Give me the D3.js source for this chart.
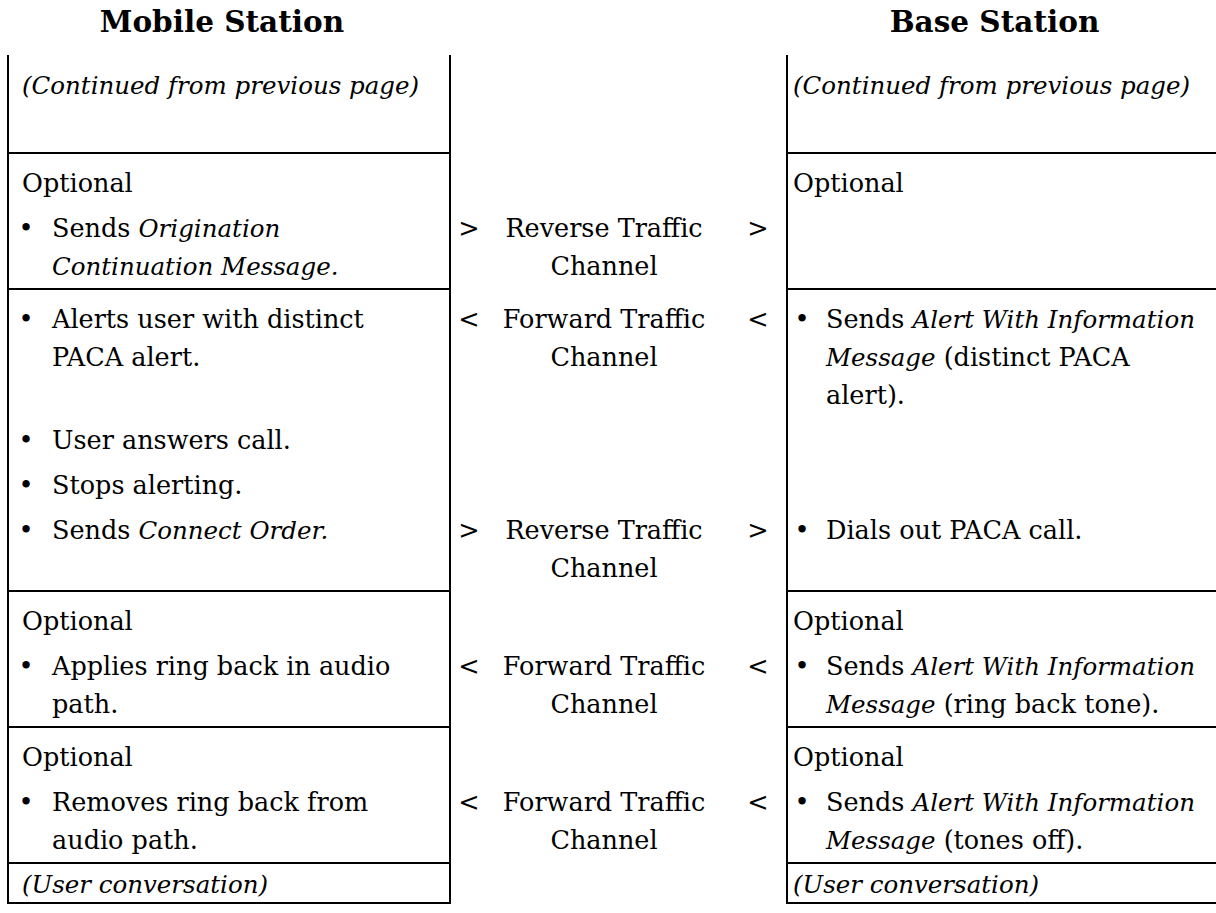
<!DOCTYPE html>
<html><head><meta charset="utf-8">
<script src="https://cdn.jsdelivr.net/npm/d3@7"></script>
<style>
body{margin:0;background:#fff}
svg{display:block}
text{font-family:"DejaVu Serif",serif;fill:#000}
</style></head>
<body><svg id="c" width="1216" height="913"></svg>
<script>
// ---------------- data ----------------
const stationTitles = ["Mobile Station", "Base Station"];
// each entry = one band (a group of aligned content); bands sharing a row have no divider
const bandRows = [0, 1, 1, 2, 2, 2, 3, 3, 4, 4, 5];
// paragraphs per band; "\n" = wrapped line; *...* = italic; leading "• " = bullet
const mobileText = [
  ["*(Continued from previous page)*", ""],
  ["Optional"],
  ["• Sends *Origination*\n*Continuation Message.*"],
  ["• Alerts user with distinct\nPACA alert."],
  ["• User answers call.", "• Stops alerting."],
  ["• Sends *Connect Order.*"],
  ["Optional"],
  ["• Applies ring back in audio\npath."],
  ["Optional"],
  ["• Removes ring back from\naudio path."],
  ["*(User conversation)*"]
];
const channelDir  = [null, null, ">", "<", null, ">", null, "<", null, "<", null];
const channelName = [null, null, "Reverse Traffic\nChannel", "Forward Traffic\nChannel", null,
                     "Reverse Traffic\nChannel", null, "Forward Traffic\nChannel", null,
                     "Forward Traffic\nChannel", null];
const baseText = [
  ["*(Continued from previous page)*", ""],
  ["Optional"],
  [],
  ["• Sends *Alert With Information*\n*Message* (distinct PACA\nalert)."],
  [],
  ["• Dials out PACA call."],
  ["Optional"],
  ["• Sends *Alert With Information*\n*Message* (ring back tone)."],
  ["Optional"],
  ["• Sends *Alert With Information*\n*Message* (tones off)."],
  ["*(User conversation)*"]
];

// ---------------- layout ----------------
const W = 1216, H = 913;
const FS = 25.5, FS_IT = 24.5, TITLE_FS = 29.5, TITLE_Y = 32;
const TOP = 55, FIRST = 39, LINE = 38, PARA = 45, BOTTOM = 14, TAIL_FIRST = 30, TAIL_BOTTOM = 10;
const colMS = {x0: 8, x1: 450, text: 22, bullet: 26, indent: 52};
const colBS = {x0: 787, x1: W, text: 793, bullet: 802, indent: 826};
const chL = 469, chR = 758, chMid = 604;

const svg = d3.select("#c");
const lastRow = d3.max(bandRows);

// compute baselines of lines in a cell (relative offsets)
function cellLines(paras) {
  const out = []; let y = null;
  paras.forEach(p => {
    const lines = p.split("\n");
    const bullet = lines[0].startsWith("• ");
    lines.forEach((ln, i) => {
      y = (y === null) ? 0 : y + (i === 0 ? PARA : LINE);
      out.push({off: y, text: (i === 0 && bullet) ? ln.slice(2) : ln, bullet: bullet && i === 0, indent: bullet});
    });
  });
  return out;
}

// vertical layout
const bands = [];
const rowBounds = [];
let y = TOP, prevRow = -1, lastBase = null;
bandRows.forEach((r, i) => {
  const ms = cellLines(mobileText[i]);
  const bs = cellLines(baseText[i]);
  const ch = channelName[i] ? cellLines([channelName[i]]) : [];
  let start;
  if (r !== prevRow) {
    if (prevRow >= 0) { y = lastBase + BOTTOM; rowBounds.push(y); }
    start = y + (r === lastRow ? TAIL_FIRST : FIRST);
  } else {
    start = lastBase + PARA;
  }
  const ext = d3.max([...ms, ...bs, ...ch], d => d.off) || 0;
  bands.push({start, ms, bs, ch, dir: channelDir[i]});
  lastBase = start + ext; prevRow = r;
});
const bottomY = lastBase + TAIL_BOTTOM;
rowBounds.push(bottomY);

// ---------------- draw ----------------
function richText(g, x, yy, str, anchor) {
  const t = g.append("text").attr("x", x).attr("y", yy).attr("font-size", FS)
    .attr("text-anchor", anchor || "start");
  str.split("*").forEach((seg, k) => {
    if (seg.length) t.append("tspan")
      .attr("font-style", k % 2 ? "italic" : "normal")
      .attr("font-size", k % 2 ? FS_IT : FS).text(seg);
  });
  return t;
}

// titles
svg.selectAll("text.title").data(stationTitles).join("text").attr("class", "title")
  .attr("x", (d, i) => (i === 0 ? (colMS.x0 + colMS.x1) / 2 : (colBS.x0 + colBS.x1) / 2) - 7)
  .attr("y", TITLE_Y).attr("text-anchor", "middle").attr("font-size", TITLE_FS)
  .attr("font-weight", "bold").text(d => d);

// borders
const lines = svg.append("g").attr("stroke", "#000").attr("stroke-width", 2);
[colMS.x0, colMS.x1, colBS.x0].forEach(x =>
  lines.append("line").attr("x1", x).attr("x2", x).attr("y1", TOP).attr("y2", bottomY + 1));
rowBounds.forEach(yy => {
  [colMS, colBS].forEach(c => lines.append("line").attr("x1", c.x0 - 1).attr("x2", c.x1 + 1)
    .attr("y1", yy).attr("y2", yy));
});

// cell text
const g = svg.append("g");
bands.forEach(b => {
  [[b.ms, colMS], [b.bs, colBS]].forEach(([ls, c]) => {
    ls.forEach(l => {
      const yy = b.start + l.off;
      if (l.bullet) g.append("text").attr("x", c.bullet).attr("y", yy).attr("font-size", FS)
        .attr("text-anchor", "middle").text("•");
      if (l.text) richText(g, l.indent ? c.indent : c.text, yy, l.text);
    });
  });
  if (b.dir) {
    g.append("text").attr("x", chL).attr("y", b.start).attr("font-size", FS).attr("text-anchor", "middle").text(b.dir);
    g.append("text").attr("x", chR).attr("y", b.start).attr("font-size", FS).attr("text-anchor", "middle").text(b.dir);
    b.ch.forEach(l => richText(g, chMid, b.start + l.off, l.text, "middle"));
  }
});
</script></body></html>
